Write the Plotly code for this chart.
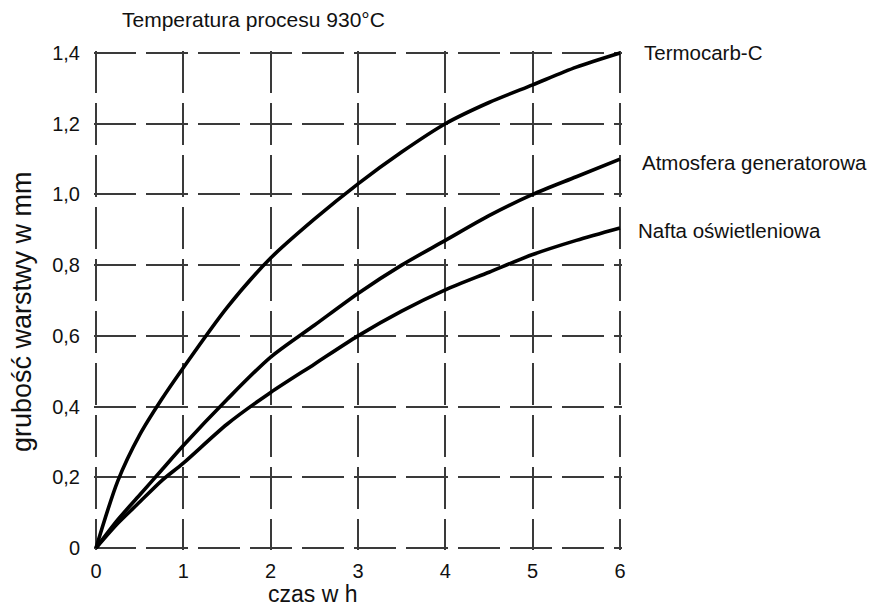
import plotly.graph_objects as go

czas = [0, 0.25, 0.5, 0.75, 1, 1.5, 2, 2.5, 3, 3.5, 4, 4.5, 5, 5.5, 6]
termocarb = [0, 0.19, 0.32, 0.42, 0.51, 0.68, 0.82, 0.93, 1.03, 1.12, 1.20, 1.26, 1.31, 1.36, 1.40]
atmosfera = [0, 0.08, 0.15, 0.22, 0.29, 0.42, 0.54, 0.63, 0.72, 0.80, 0.87, 0.94, 1.00, 1.05, 1.10]
nafta = [0, 0.07, 0.13, 0.19, 0.24, 0.35, 0.44, 0.52, 0.60, 0.67, 0.73, 0.78, 0.83, 0.87, 0.905]

series_names = ["Termocarb-C", "Atmosfera generatorowa", "Nafta oświetleniowa"]
series_vals = [termocarb, atmosfera, nafta]

x_ticks = [0, 1, 2, 3, 4, 5, 6]
x_labels = ["0", "1", "2", "3", "4", "5", "6"]
y_ticks = [0, 0.2, 0.4, 0.6, 0.8, 1.0, 1.2, 1.4]
y_labels = ["0", "0,2", "0,4", "0,6", "0,8", "1,0", "1,2", "1,4"]

FONT = "Liberation Sans, Arial, sans-serif"
TXT = "#111"

fig = go.Figure()
for name, vals in zip(series_names, series_vals):
    fig.add_trace(go.Scatter(x=czas, y=vals, mode="lines", name=name,
                             line=dict(color="black", width=3.6, shape="spline", smoothing=0.8),
                             showlegend=False, cliponaxis=False))

label_xshift = [22, 20, 16]
label_yshift = [1, -3, -2]
for name, vals, xs, ys in zip(series_names, series_vals, label_xshift, label_yshift):
    fig.add_annotation(x=czas[-1], y=vals[-1], xref="x", yref="y", text=name, showarrow=False,
                       xanchor="left", yanchor="middle", xshift=xs, yshift=ys,
                       font=dict(family=FONT, size=20.5, color=TXT))

fig.add_annotation(x=0.0, y=1.0, xref="paper", yref="paper", text="Temperatura procesu 930°C",
                   showarrow=False, xanchor="left", yanchor="middle", xshift=26, yshift=32,
                   font=dict(family=FONT, size=21, color=TXT))
fig.add_annotation(x=0.414, y=0, xref="paper", yref="paper", text="czas w h",
                   showarrow=False, xanchor="center", yanchor="middle", yshift=-44,
                   font=dict(family=FONT, size=23, color=TXT))
fig.add_annotation(x=0, y=0.477, xref="paper", yref="paper", text="grubość warstwy w mm",
                   showarrow=False, xanchor="center", yanchor="middle", xshift=-72,
                   textangle=-90, font=dict(family=FONT, size=27, color=TXT))

grid = dict(showgrid=True, gridcolor="#3a3a3a", gridwidth=1.6, griddash="42px,10px",
            zeroline=False, showline=False, ticks="", automargin=False)

xpad = 2 / (524 / 6)
ypad = 2 / (495 / 1.4)
fig.update_xaxes(range=[-xpad, 6 + xpad], tickvals=x_ticks, ticktext=x_labels, ticklabelstandoff=7,
                 tickfont=dict(family=FONT, size=20, color=TXT), **grid)
fig.update_yaxes(range=[-ypad, 1.4 + ypad], tickvals=y_ticks, ticktext=y_labels, ticklabelstandoff=13,
                 tickfont=dict(family=FONT, size=20, color=TXT), **grid)

fig.update_layout(width=867, height=601, margin=dict(l=86, r=253, t=43, b=59),
                  plot_bgcolor="white", paper_bgcolor="white")

fig.write_html("out.html")
